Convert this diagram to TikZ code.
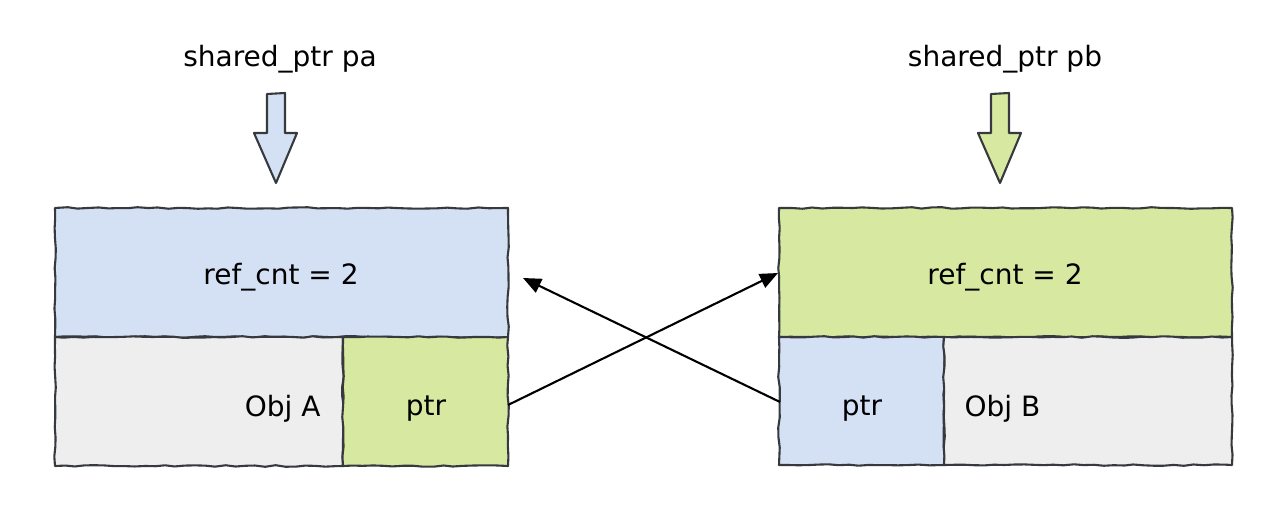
\documentclass[tikz,border=0pt]{standalone}
\usepackage{fontspec}
\setmainfont{DejaVu Sans}
\usetikzlibrary{decorations.pathmorphing,arrows.meta}
\definecolor{stroke}{HTML}{36393D}
\definecolor{blueF}{HTML}{D4E1F5}
\definecolor{greenF}{HTML}{D7E8A0}
\definecolor{grayF}{HTML}{EEEEEE}
\begin{document}
\begin{tikzpicture}[x=1pt,y=-1pt,
  sketch/.style={draw=stroke,line width=2.1pt,line join=round,
    decorate,decoration={random steps,segment length=10pt,amplitude=0.8pt}},
  cell/.style={sketch,fill=#1},
  blockarrow/.style={draw=stroke,line width=2.1pt,line join=round,fill=#1},
  lbl/.style={font=\fontsize{28}{32}\selectfont,text=black},
  link/.style={draw=black,line width=2.1pt,-{Triangle[length=18pt,width=15pt]}}
]
\useasboundingbox (0,0) rectangle (1286,508);
\pgfmathsetseed{7}

% header block arrows
\path[blockarrow=blueF] (267,94) -- (285,93) -- (285,133) -- (297,133) -- (276,183)
  -- (254,133) -- (267,133) -- cycle;
\path[blockarrow=greenF] (991,94) -- (1009,93) -- (1009,133) -- (1021,133) -- (1000,183)
  -- (978,133) -- (991,133) -- cycle;

\node[lbl] (pa) at (280,59) {shared\_ptr pa};
\node[lbl] (pb) at (1005,59) {shared\_ptr pb};

% object A
\path[cell=blueF] (55,208) rectangle (508,337);
\path[cell=grayF] (55,337) rectangle (343,466);
\path[cell=greenF] (343,337) rectangle (508,466);
\node[lbl] (cntA) at (281,277) {ref\_cnt = 2};
\node[lbl,anchor=east] (objA) at (324,409) {Obj A};
\node[lbl] (ptrA) at (426,409) {ptr};

% object B
\path[cell=greenF] (779,208) rectangle (1232,337);
\path[cell=blueF] (779,337) rectangle (944,465);
\path[cell=grayF] (944,337) rectangle (1232,465);
\node[lbl] (cntB) at (1005,277) {ref\_cnt = 2};
\node[lbl,anchor=west] (objB) at (961,409) {Obj B};
\node[lbl] (ptrB) at (862,409) {ptr};

% cross references
\coordinate (ptrAout) at (508,405);
\coordinate (cntBin) at (778,273);
\coordinate (ptrBout) at (780,402);
\coordinate (cntAin) at (523,278);
\draw[link] (ptrAout) -- (cntBin);
\draw[link] (ptrBout) -- (cntAin);
\end{tikzpicture}
\end{document}
